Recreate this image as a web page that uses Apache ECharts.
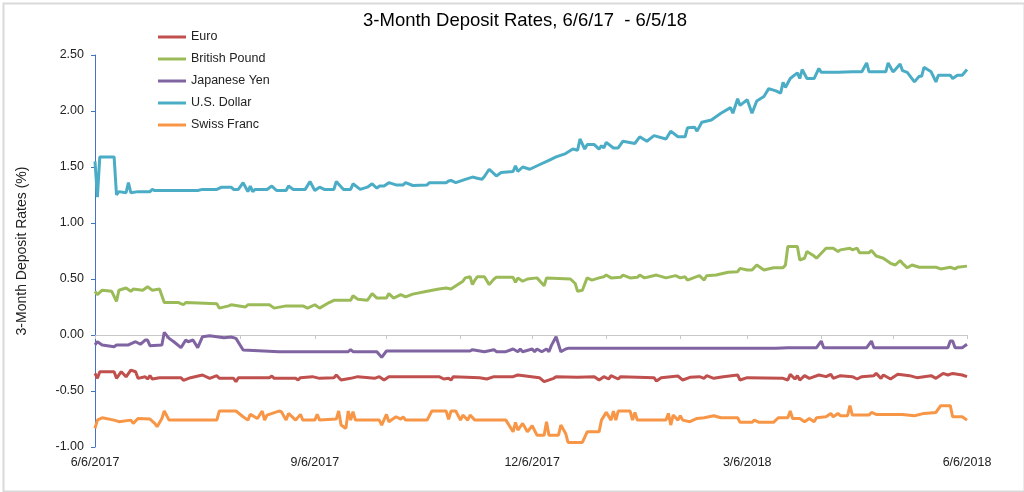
<!DOCTYPE html>
<html>
<head>
<meta charset="utf-8">
<script src="https://cdn.jsdelivr.net/npm/echarts@6/dist/echarts.min.js"></script>
<style>
html,body{margin:0;padding:0;background:#fff;}
#c{width:1024px;height:492px;}
</style>
</head>
<body>
<div id="c"></div>
<script>
// x = days since 6/6/2017
const xLabels = ['6/6/2017', '9/6/2017', '12/6/2017', '3/6/2018', '6/6/2018'];
const xLabelDays = [0, 92, 183, 273, 365];
const monthTickDays = [0, 30, 61, 92, 122, 153, 183, 214, 245, 273, 304, 334, 365];
const yTicks = [-1, -0.5, 0, 0.5, 1, 1.5, 2, 2.5];
const seriesNames = ['Euro', 'British Pound', 'Japanese Yen', 'U.S. Dollar', 'Swiss Franc'];

const usd = [[0,1.55],[1,1.23],[2,1.59],[8,1.59],[9,1.25],[10,1.28],[13,1.27],[14,1.36],[15,1.27],[18,1.28],[23,1.28],[24,1.30],[25,1.29],[43,1.29],[45,1.30],[51,1.30],[53,1.32],[57,1.32],[58,1.30],[60,1.30],[62,1.36],[64,1.28],[65,1.33],[66,1.28],[67,1.30],[72,1.30],[74,1.33],[76,1.29],[80,1.29],[81,1.33],[83,1.30],[88,1.30],[90,1.37],[92,1.29],[94,1.32],[96,1.30],[100,1.30],[101,1.37],[104,1.30],[107,1.30],[108,1.35],[111,1.30],[114,1.32],[116,1.35],[118,1.31],[119,1.33],[121,1.33],[123,1.36],[126,1.34],[129,1.34],[130,1.36],[133,1.335],[139,1.34],[140,1.36],[147,1.36],[148,1.375],[149,1.38],[151,1.36],[155,1.39],[158,1.41],[160,1.40],[162,1.39],[163,1.415],[165,1.48],[168,1.42],[170,1.45],[175,1.46],[176,1.51],[177,1.46],[179,1.50],[182,1.48],[186,1.52],[190,1.56],[193,1.59],[197,1.62],[200,1.66],[202,1.65],[203,1.75],[205,1.66],[206,1.70],[209,1.70],[211,1.66],[212,1.69],[213,1.67],[214,1.72],[217,1.67],[219,1.67],[221,1.73],[226,1.71],[228,1.77],[231,1.73],[234,1.78],[239,1.75],[241,1.82],[244,1.77],[247,1.77],[248,1.85],[251,1.855],[252,1.82],[254,1.90],[258,1.92],[262,1.98],[266,2.03],[267,1.98],[269,2.11],[270,2.05],[273,2.10],[275,1.98],[277,2.09],[280,2.13],[282,2.20],[285,2.18],[287,2.16],[288,2.255],[289,2.21],[291,2.29],[294,2.34],[295,2.29],[296,2.37],[298,2.29],[301,2.29],[303,2.38],[304,2.345],[311,2.345],[317,2.35],[321,2.35],[323,2.43],[324,2.35],[331,2.35],[332,2.43],[334,2.35],[335,2.37],[337,2.42],[338,2.36],[340,2.345],[343,2.26],[345,2.31],[346,2.31],[347,2.39],[350,2.35],[352,2.26],[353,2.32],[358,2.32],[359,2.29],[361,2.32],[363,2.32],[365,2.37]];

const gbp = [[0,0.39],[1,0.36],[3,0.40],[7,0.39],[9,0.30],[10,0.40],[13,0.42],[15,0.39],[16,0.41],[20,0.40],[22,0.43],[24,0.40],[27,0.41],[29,0.29],[35,0.29],[37,0.27],[38,0.29],[51,0.28],[52,0.24],[56,0.26],[57,0.27],[63,0.25],[64,0.27],[73,0.27],[75,0.24],[80,0.26],[87,0.26],[89,0.24],[92,0.27],[94,0.24],[98,0.29],[100,0.31],[107,0.31],[108,0.35],[110,0.32],[114,0.31],[116,0.37],[118,0.33],[122,0.33],[123,0.37],[125,0.33],[128,0.36],[130,0.34],[133,0.365],[139,0.39],[144,0.41],[147,0.42],[149,0.41],[154,0.48],[155,0.51],[157,0.52],[158,0.45],[159,0.49],[160,0.52],[163,0.52],[165,0.45],[167,0.50],[168,0.515],[175,0.515],[176,0.47],[177,0.51],[179,0.48],[181,0.50],[185,0.51],[188,0.44],[189,0.51],[199,0.50],[201,0.46],[202,0.39],[204,0.40],[206,0.51],[208,0.49],[211,0.51],[213,0.52],[214,0.535],[216,0.51],[220,0.515],[221,0.535],[224,0.51],[227,0.515],[228,0.535],[230,0.51],[232,0.52],[235,0.535],[239,0.51],[243,0.53],[245,0.51],[247,0.52],[248,0.49],[251,0.515],[253,0.53],[255,0.49],[256,0.53],[260,0.535],[265,0.56],[269,0.565],[270,0.595],[273,0.58],[275,0.58],[277,0.625],[280,0.58],[284,0.60],[288,0.60],[289,0.625],[290,0.79],[294,0.79],[295,0.67],[297,0.685],[298,0.745],[301,0.705],[302,0.685],[306,0.775],[309,0.775],[311,0.745],[312,0.76],[316,0.775],[317,0.76],[319,0.775],[320,0.735],[324,0.735],[325,0.755],[327,0.705],[330,0.685],[333,0.64],[335,0.625],[337,0.665],[338,0.64],[340,0.60],[342,0.625],[345,0.605],[352,0.605],[354,0.59],[358,0.605],[360,0.59],[361,0.605],[365,0.615]];

const jpy = [[0,-0.089],[1,-0.06],[3,-0.089],[8,-0.104],[9,-0.089],[14,-0.089],[17,-0.06],[19,-0.083],[21,-0.045],[22,-0.045],[23,-0.095],[28,-0.089],[29,0.024],[31,-0.03],[33,-0.06],[36,-0.113],[38,-0.045],[39,-0.06],[41,-0.045],[43,-0.113],[45,-0.015],[48,-0.006],[54,-0.024],[57,-0.018],[59,-0.03],[62,-0.134],[77,-0.149],[106,-0.149],[107,-0.131],[108,-0.149],[118,-0.149],[120,-0.20],[122,-0.143],[157,-0.143],[158,-0.131],[163,-0.149],[167,-0.131],[168,-0.149],[172,-0.149],[175,-0.125],[177,-0.149],[178,-0.125],[179,-0.149],[183,-0.125],[184,-0.149],[185,-0.125],[187,-0.149],[189,-0.125],[190,-0.149],[191,-0.095],[193,-0.015],[195,-0.149],[197,-0.125],[198,-0.119],[285,-0.119],[290,-0.113],[302,-0.113],[304,-0.054],[305,-0.113],[323,-0.113],[325,-0.054],[326,-0.113],[357,-0.113],[358,-0.054],[359,-0.054],[360,-0.113],[363,-0.113],[365,-0.083]];

const euro = [[0,-0.343],[1,-0.387],[2,-0.328],[8,-0.328],[9,-0.387],[11,-0.328],[13,-0.373],[15,-0.313],[17,-0.328],[18,-0.387],[21,-0.373],[22,-0.393],[23,-0.363],[24,-0.393],[27,-0.381],[36,-0.381],[37,-0.405],[40,-0.381],[45,-0.357],[48,-0.387],[51,-0.363],[52,-0.387],[58,-0.387],[59,-0.417],[60,-0.381],[73,-0.381],[74,-0.366],[75,-0.387],[84,-0.387],[85,-0.402],[86,-0.381],[91,-0.372],[94,-0.387],[100,-0.381],[101,-0.357],[103,-0.402],[107,-0.387],[110,-0.372],[117,-0.387],[119,-0.372],[121,-0.402],[123,-0.372],[144,-0.372],[146,-0.393],[148,-0.387],[149,-0.402],[150,-0.372],[161,-0.381],[164,-0.393],[167,-0.372],[175,-0.372],[177,-0.357],[186,-0.381],[188,-0.417],[192,-0.387],[193,-0.372],[202,-0.378],[209,-0.372],[211,-0.402],[213,-0.372],[215,-0.393],[216,-0.363],[219,-0.393],[220,-0.372],[234,-0.381],[235,-0.411],[237,-0.381],[244,-0.366],[246,-0.402],[249,-0.378],[253,-0.372],[255,-0.387],[256,-0.363],[259,-0.387],[263,-0.372],[269,-0.357],[270,-0.402],[273,-0.381],[288,-0.387],[290,-0.402],[291,-0.351],[293,-0.393],[294,-0.363],[295,-0.402],[297,-0.363],[299,-0.387],[303,-0.357],[306,-0.372],[308,-0.351],[309,-0.387],[312,-0.363],[317,-0.372],[319,-0.393],[321,-0.372],[326,-0.363],[327,-0.343],[329,-0.387],[330,-0.357],[333,-0.393],[336,-0.351],[341,-0.363],[344,-0.381],[350,-0.363],[352,-0.387],[355,-0.343],[357,-0.357],[359,-0.343],[363,-0.357],[365,-0.372]];

const chf = [[0,-0.834],[1,-0.76],[3,-0.739],[8,-0.76],[10,-0.774],[15,-0.76],[16,-0.789],[18,-0.745],[23,-0.751],[25,-0.789],[26,-0.819],[28,-0.745],[29,-0.679],[31,-0.76],[51,-0.76],[52,-0.679],[59,-0.679],[62,-0.730],[64,-0.76],[65,-0.709],[68,-0.745],[70,-0.679],[71,-0.76],[72,-0.715],[77,-0.679],[78,-0.685],[80,-0.76],[81,-0.70],[84,-0.76],[86,-0.709],[87,-0.76],[92,-0.76],[93,-0.709],[94,-0.76],[101,-0.751],[102,-0.679],[103,-0.804],[105,-0.834],[106,-0.679],[107,-0.76],[108,-0.685],[109,-0.76],[119,-0.76],[120,-0.804],[122,-0.709],[123,-0.774],[126,-0.730],[128,-0.751],[129,-0.730],[130,-0.76],[139,-0.76],[141,-0.679],[147,-0.679],[148,-0.754],[149,-0.679],[151,-0.679],[153,-0.76],[154,-0.715],[156,-0.76],[157,-0.715],[159,-0.76],[172,-0.76],[175,-0.864],[176,-0.78],[177,-0.849],[179,-0.789],[181,-0.864],[183,-0.81],[185,-0.894],[188,-0.894],[189,-0.774],[190,-0.894],[194,-0.894],[195,-0.804],[197,-0.879],[198,-0.959],[204,-0.959],[206,-0.864],[211,-0.864],[212,-0.76],[214,-0.691],[216,-0.76],[217,-0.679],[218,-0.76],[219,-0.679],[224,-0.679],[225,-0.76],[226,-0.691],[227,-0.76],[234,-0.76],[239,-0.76],[240,-0.70],[241,-0.804],[242,-0.715],[244,-0.76],[245,-0.721],[246,-0.76],[249,-0.774],[252,-0.745],[255,-0.739],[259,-0.721],[262,-0.739],[269,-0.739],[270,-0.780],[275,-0.780],[276,-0.76],[278,-0.780],[284,-0.780],[286,-0.739],[290,-0.739],[291,-0.679],[292,-0.745],[295,-0.745],[297,-0.774],[299,-0.745],[301,-0.774],[302,-0.739],[306,-0.730],[308,-0.70],[309,-0.730],[311,-0.70],[312,-0.721],[315,-0.721],[316,-0.631],[317,-0.715],[324,-0.715],[325,-0.691],[327,-0.709],[338,-0.709],[343,-0.721],[347,-0.70],[352,-0.691],[354,-0.631],[358,-0.631],[359,-0.730],[363,-0.730],[365,-0.76]];

const seriesData = [euro, gbp, jpy, usd, chf];
const seriesColors = ['#C0504D', '#9BBB59', '#8064A2', '#4BACC6', '#F79646'];

const FONT = '"Liberation Sans", Arial, sans-serif';
const chart = echarts.init(document.getElementById('c'), null, {renderer: 'canvas'});

chart.setOption({
  animation: false,
  backgroundColor: '#fff',
  textStyle: {fontFamily: FONT},
  graphic: [{
    type: 'rect', left: 1, top: 1, silent: true,
    shape: {width: 1021, height: 488},
    style: {fill: 'none', stroke: '#d9d9d9', lineWidth: 2}
  }],
  title: {
    text: '3-Month Deposit Rates, 6/6/17  - 6/5/18',
    left: 520, textAlign: 'center', top: 6,
    textStyle: {fontFamily: FONT, fontSize: 18.5, fontWeight: 'normal', color: '#000'}
  },
  legend: {
    orient: 'vertical', left: 158, top: 30, padding: 0,
    icon: 'rect', itemWidth: 28, itemHeight: 3, itemGap: 8,
    data: seriesNames,
    textStyle: {fontFamily: FONT, fontSize: 12.5, color: '#222', lineHeight: 14}
  },
  grid: {left: 95, right: 57, top: 55, bottom: 45, containLabel: false},
  xAxis: [{
    type: 'value', min: 0, max: 365,
    axisLine: {show: true, onZero: true, lineStyle: {color: '#c8c8c8', width: 1}},
    axisTick: {show: true, customValues: monthTickDays, length: 4, lineStyle: {color: '#c8c8c8'}},
    axisLabel: {show: false},
    splitLine: {show: false}
  }, {
    type: 'value', min: 0, max: 365, position: 'bottom',
    axisLine: {show: false, onZero: false},
    axisTick: {show: false},
    axisLabel: {
      show: true, customValues: xLabelDays, margin: 9,
      fontFamily: FONT, fontSize: 12.5, color: '#222',
      formatter: v => xLabels[xLabelDays.indexOf(v)]
    },
    splitLine: {show: false}
  }],
  yAxis: {
    type: 'value', min: -1, max: 2.5, interval: 0.5,
    axisLine: {show: true, lineStyle: {color: '#4472C4', width: 1}},
    axisTick: {show: true, length: 4, lineStyle: {color: '#4472C4'}},
    axisLabel: {fontFamily: FONT, fontSize: 12.5, color: '#222', margin: 11, formatter: v => v.toFixed(2)},
    splitLine: {show: false},
    name: '3-Month Deposit Rates (%)',
    nameLocation: 'middle', nameGap: 66,
    nameTextStyle: {fontFamily: FONT, fontSize: 14, color: '#222'}
  },
  series: seriesNames.map((n, i) => ({
    name: n, type: 'line', xAxisIndex: 0,
    data: seriesData[i],
    showSymbol: false, symbol: 'none',
    lineStyle: {color: seriesColors[i], width: 3},
    itemStyle: {color: seriesColors[i]},
    emphasis: {disabled: true}
  }))
});
</script>
</body>
</html>
